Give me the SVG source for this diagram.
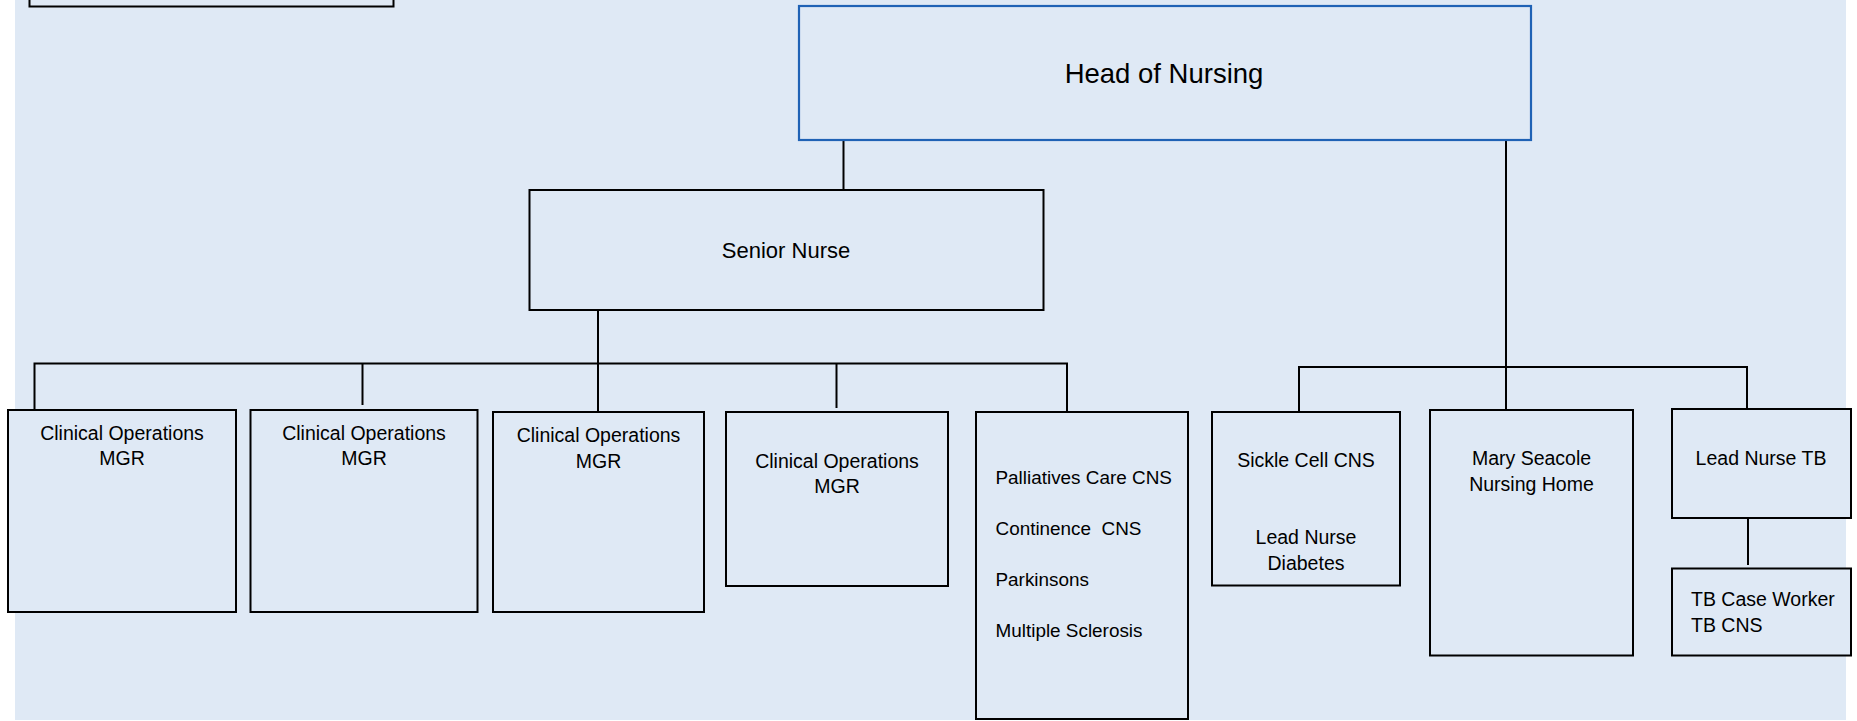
<svg xmlns="http://www.w3.org/2000/svg" width="1857" height="721" viewBox="0 0 1857 721">
<style>
.box{fill:#DFE9F5;stroke:#000;stroke-width:2}
.head{fill:#DFE9F5;stroke:#1F62B5;stroke-width:2.2}
.ln{stroke:#000;stroke-width:2;fill:none}
text{font-family:"Liberation Sans",Arial,sans-serif;fill:#000}
.t{font-size:19.5px}
.s{font-size:18.9px}
.c{text-anchor:middle}
</style>
<rect x="0" y="0" width="1857" height="721" fill="#FFFFFF"/>
<rect x="15" y="0" width="1831" height="720" fill="#DFE9F5"/>
<g id="connectors">
<line class="ln" x1="843.5" y1="140" x2="843.5" y2="190"/>
<line class="ln" x1="1506" y1="140" x2="1506" y2="410"/>
<polyline class="ln" points="1299,411 1299,367 1747,367 1747,409"/>
<line class="ln" x1="598" y1="310" x2="598" y2="412"/>
<polyline class="ln" points="34.5,411 34.5,363.5 1067,363.5 1067,411"/>
<line class="ln" x1="362.5" y1="363.5" x2="362.5" y2="405"/>
<line class="ln" x1="836.5" y1="363.5" x2="836.5" y2="408"/>
<line class="ln" x1="1748" y1="518" x2="1748" y2="565"/>
</g>
<g id="topleft"><rect class="box" x="29.5" y="-10" width="364" height="16.5"/></g>
<g id="head">
<rect class="head" x="799" y="6" width="732" height="134"/>
<text class="c" x="1164" y="82.5" font-size="27.5">Head of Nursing</text>
</g>
<g id="senior">
<rect class="box" x="529.5" y="190" width="514" height="120"/>
<text class="c" x="786" y="258" font-size="22">Senior Nurse</text>
</g>
<g id="cop1">
<rect class="box" x="8" y="410" width="228" height="202"/>
<text class="t c" x="122" y="439.5">Clinical Operations</text>
<text class="t c" x="122" y="465">MGR</text>
</g>
<g id="cop2">
<rect class="box" x="250.5" y="410" width="227" height="202"/>
<text class="t c" x="364" y="439.5">Clinical Operations</text>
<text class="t c" x="364" y="465">MGR</text>
</g>
<g id="cop3">
<rect class="box" x="493" y="412" width="211" height="200"/>
<text class="t c" x="598.5" y="442">Clinical Operations</text>
<text class="t c" x="598.5" y="467.5">MGR</text>
</g>
<g id="cop4">
<rect class="box" x="726" y="412" width="222" height="174"/>
<text class="t c" x="837" y="467.5">Clinical Operations</text>
<text class="t c" x="837" y="493">MGR</text>
</g>
<g id="specialist">
<rect class="box" x="976" y="412" width="212" height="307"/>
<text class="s" x="995.5" y="484">Palliatives Care CNS</text>
<text class="s" x="995.5" y="535" xml:space="preserve">Continence  CNS</text>
<text class="s" x="995.5" y="586">Parkinsons</text>
<text class="s" x="995.5" y="637">Multiple Sclerosis</text>
</g>
<g id="sickle">
<rect class="box" x="1212" y="412" width="188" height="173.5"/>
<text class="t c" x="1306" y="466.5">Sickle Cell CNS</text>
<text class="t c" x="1306" y="544">Lead Nurse</text>
<text class="t c" x="1306" y="569.5">Diabetes</text>
</g>
<g id="seacole">
<rect class="box" x="1430" y="410" width="203" height="245.5"/>
<text class="t c" x="1531.5" y="465">Mary Seacole</text>
<text class="t c" x="1531.5" y="490.5">Nursing Home</text>
</g>
<g id="leadtb">
<rect class="box" x="1672" y="409" width="179" height="109"/>
<text class="t c" x="1761" y="464.5">Lead Nurse TB</text>
</g>
<g id="tbcase">
<rect class="box" x="1672" y="568.5" width="179" height="87"/>
<text class="t" x="1691" y="606">TB Case Worker</text>
<text class="t" x="1691" y="631.5">TB CNS</text>
</g>
</svg>
